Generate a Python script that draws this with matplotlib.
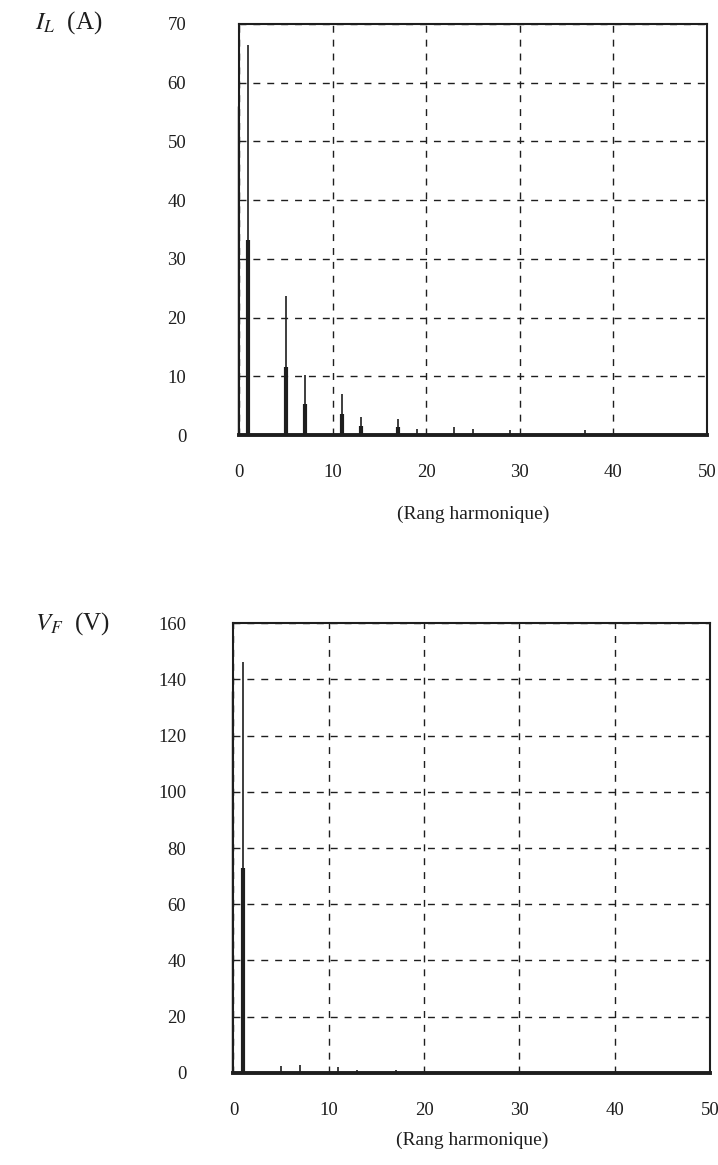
import numpy as np
import matplotlib
matplotlib.use('Agg')
import matplotlib.pyplot as plt

plt.rcParams['font.family'] = ['Liberation Serif', 'DejaVu Serif']
plt.rcParams['mathtext.fontset'] = 'stix'

# courant de ligne I_L : rangs, amplitude (trait fin), trait epais
il_rang = [1, 5, 7, 11, 13, 17, 19, 23, 25, 29, 37]
il_fin = [66.4, 23.6, 10.3, 7.0, 3.1, 2.8, 1.1, 1.4, 1.1, 0.8, 0.8]
il_rang_ep = [1, 5, 7, 11, 13, 17]
il_epais = [33.2, 11.6, 5.3, 3.6, 1.5, 1.4]
il_bord = 56.0   # trait colle a l'axe gauche

# tension V_F
vf_rang = [1, 5, 7, 11, 13, 17]
vf_fin = [146.0, 2.5, 3.0, 2.0, 0.9, 1.2]
vf_rang_ep = [1]
vf_epais = [73.0]
vf_bord = 136.0

xticks = [0, 10, 20, 30, 40, 50]
il_yticks = [0, 10, 20, 30, 40, 50, 60, 70]
vf_yticks = [0, 20, 40, 60, 80, 100, 120, 140, 160]

c = '#1e1e1e'
fig = plt.figure(figsize=(7.18, 11.65), dpi=100)

def spectre(ax, rang, fin, rang_ep, epais, bord, yticks, ypad, lpad):
    ax.vlines(rang, 0, fin, color=c, lw=1.2, zorder=3)
    ax.vlines(rang_ep, 0, epais, color=c, lw=3.0, zorder=3)
    ax.vlines([-0.12], 0, [bord], color=c, lw=1.0, clip_on=False, zorder=3)
    ax.set_xlim(0, 50)
    ax.set_ylim(0, yticks[-1])
    ax.set_xticks(xticks)
    ax.set_yticks(yticks)
    ax.grid(True, color=c, ls=(0, (5, 5)), lw=1.0)
    ax.tick_params(length=0, labelsize=13.5, colors=c)
    ax.tick_params(axis='y', pad=ypad)
    ax.tick_params(axis='x', pad=21)
    for s in ['left', 'right', 'top']:
        ax.spines[s].set_linewidth(1.5)
        ax.spines[s].set_color(c)
    ax.spines['bottom'].set_linewidth(2.8)
    ax.spines['bottom'].set_color(c)
    ax.set_xlabel('(Rang harmonique)', fontsize=14, color=c, labelpad=lpad)

ax1 = fig.add_axes([0.3329, 0.6266, 0.6518, 0.3528])
spectre(ax1, il_rang, il_fin, il_rang_ep, il_epais, il_bord, il_yticks, 38, 18)
fig.text(0.049, 0.981, r'$I_L$  (A)', fontsize=18, color=c, va='center', ha='left')

ax2 = fig.add_axes([0.3252, 0.0790, 0.6637, 0.3862])
spectre(ax2, vf_rang, vf_fin, vf_rang_ep, vf_epais, vf_bord, vf_yticks, 34, 9)
fig.text(0.049, 0.465, r'$V_F$  (V)', fontsize=18, color=c, va='center', ha='left')

fig.savefig('out.png', dpi=100, facecolor='white')
